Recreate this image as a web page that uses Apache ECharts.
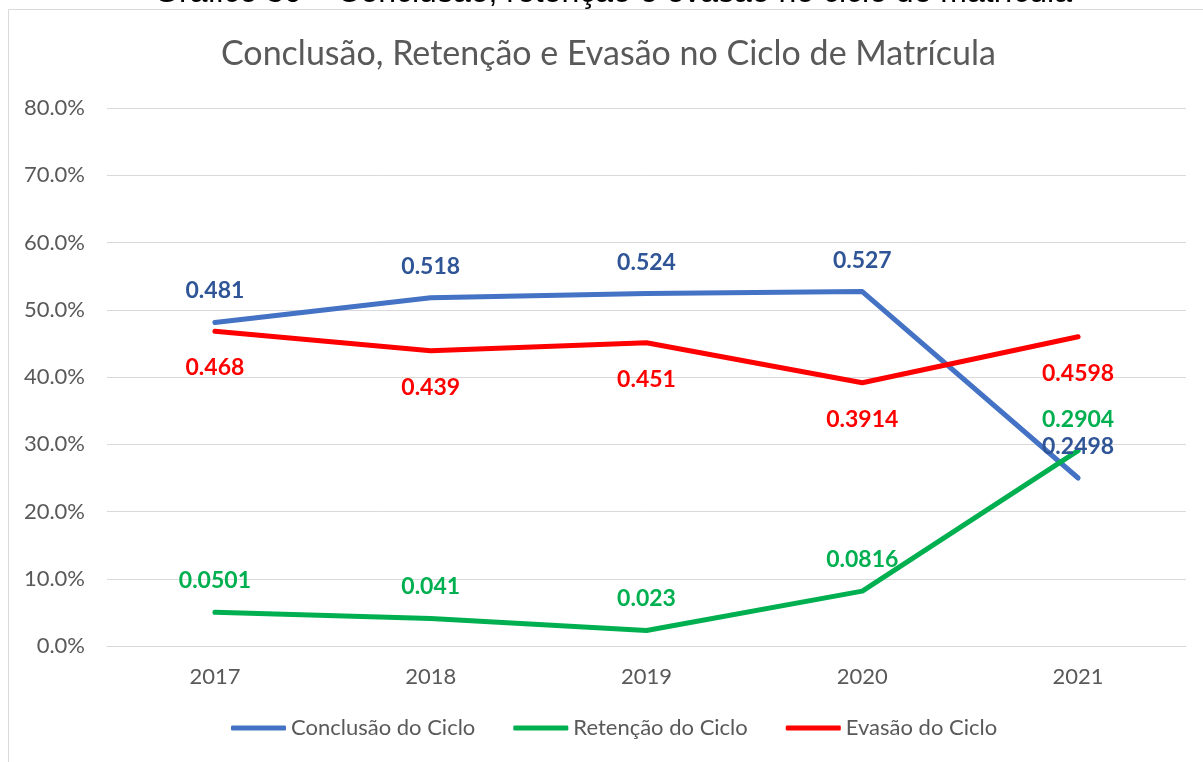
<!DOCTYPE html>
<html>
<head>
<meta charset="utf-8">
<script src="https://cdn.jsdelivr.net/npm/echarts@6/dist/echarts.min.js"></script>
<style>
  html, body { margin: 0; padding: 0; background: #fff; }
  #chart { width: 1203px; height: 762px; }
</style>
</head>
<body>
<div id="chart"></div>
<script>
const years = ['2017', '2018', '2019', '2020', '2021']
const conclusao = [0.481, 0.518, 0.524, 0.527, 0.2498]
const retencao = [0.0501, 0.041, 0.023, 0.0816, 0.2904]
const evasao = [0.468, 0.439, 0.451, 0.3914, 0.4598]

const FONT = 'Lato, "Open Sans", sans-serif'

function lineSeries(name, data, lineColor, labelColor, pos, dist) {
  return {
    name,
    type: 'line',
    data,
    symbol: 'circle',
    symbolSize: 0,
    itemStyle: { color: lineColor },
    lineStyle: { color: lineColor, width: 5, cap: 'round', join: 'round' },
    label: {
      show: true,
      position: pos,
      distance: dist,
      color: labelColor,
      fontFamily: FONT,
      fontWeight: 'bold',
      fontSize: 23,
      formatter: (p) => String(p.value),
    },
    emphasis: { disabled: true },
    animation: false,
  }
}

const chart = echarts.init(document.getElementById('chart'))

chart.setOption({
  animation: false,
  graphic: [
    {
      type: 'rect',
      shape: { x: 8.5, y: 9.5, width: 1300, height: 800 },
      style: { fill: 'none', stroke: '#d9d9d9', lineWidth: 1 },
      silent: true,
    },
    {
      type: 'text',
      x: 613,
      y: -7,
      style: {
        text: 'Gráfico 30 – Conclusão, retenção e evasão no ciclo de matrícula',
        font: '32px "Liberation Sans", Arial, sans-serif',
        fill: '#000',
        align: 'center',
        verticalAlign: 'middle',
      },
      silent: true,
    },
  ],
  title: {
    text: 'Conclusão, Retenção e Evasão no Ciclo de Matrícula',
    left: 216,
    top: 32,
    textStyle: {
      fontFamily: FONT,
      fontWeight: 'normal',
      fontSize: 34,
      color: '#595959',
    },
  },
  grid: {
    left: 107,
    right: 17,
    top: 108,
    bottom: 116,
  },
  xAxis: {
    type: 'category',
    data: years,
    boundaryGap: true,
    axisLine: { lineStyle: { color: '#d9d9d9', width: 1 } },
    axisTick: { show: false },
    axisLabel: {
      color: '#595959',
      fontFamily: FONT,
      fontSize: 22,
      margin: 20,
    },
  },
  yAxis: {
    type: 'value',
    min: 0,
    max: 0.8,
    interval: 0.1,
    axisLine: { show: false },
    axisTick: { show: false },
    splitLine: { lineStyle: { color: '#d9d9d9', width: 1 } },
    axisLabel: {
      color: '#595959',
      fontFamily: FONT,
      fontSize: 22,
      margin: 22,
      formatter: (v) => (v * 100).toFixed(1) + '%',
    },
  },
  legend: {
    bottom: 18,
    left: 226,
    icon: 'roundRect',
    itemWidth: 55,
    itemHeight: 5,
    itemGap: 38,
    textStyle: {
      color: '#595959',
      fontFamily: FONT,
      fontSize: 22,
    },
  },
  series: [
    lineSeries('Conclusão do Ciclo', conclusao, '#4472C4', '#2F5597', 'top', 20),
    lineSeries('Retenção do Ciclo', retencao, '#00B050', '#00B050', 'top', 20),
    lineSeries('Evasão do Ciclo', evasao, '#FF0000', '#FF0000', 'bottom', 25),
  ],
})
</script>
</body>
</html>
